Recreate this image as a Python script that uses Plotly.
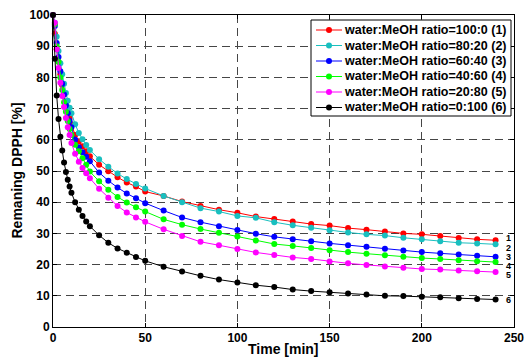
import plotly.graph_objects as go

time_min = [0, 1, 2, 3, 4, 5, 6, 7, 8, 9, 10, 12, 14, 16, 18, 20, 25, 30, 35, 40, 45, 50,
            60, 70, 80, 90, 100, 110, 120, 130, 140, 150, 160, 170, 180, 190, 200, 210, 220, 230, 240]

ratio_100_0 = [100, 94, 89, 85, 81, 77.5, 74.5, 71.5, 69, 67, 65, 61.5, 59.5, 57.9, 56.3, 54.7, 52.0, 49.9, 48.0, 46.3, 45.0, 43.4,
               42.0, 40.2, 38.8, 37.6, 36.6, 35.4, 34.6, 33.8, 33.0, 32.5, 31.7, 31.2, 30.6, 30.0, 29.7, 29.2, 28.5, 28.1, 27.8]
ratio_80_20 = [100, 97.5, 93, 88.5, 84.5, 81, 78, 75, 72.5, 70.3, 68.5, 65, 62.2, 60.2, 58.3, 56.7, 53.8, 51.4, 49.2, 47.4, 45.8, 44.4,
               42.0, 40.0, 38.1, 37.0, 35.6, 35.0, 33.6, 32.6, 31.8, 31.0, 30.3, 29.7, 29.3, 28.6, 28.1, 27.5, 27.0, 26.8, 26.5]
ratio_60_40 = [100, 96.5, 91, 86.5, 82, 78, 74.5, 71, 68.5, 66, 64, 60, 57.6, 56.0, 54.6, 53.1, 49.5, 46.9, 44.7, 42.8, 41.3, 39.7,
               37.3, 35.1, 33.6, 32.3, 31.1, 29.9, 28.9, 28.1, 27.5, 26.8, 26.2, 25.7, 25.1, 24.5, 24.0, 23.6, 23.2, 22.8, 22.5]
ratio_40_60 = [100, 97, 90, 85, 80, 76, 72, 69, 66, 63.5, 61.5, 58.4, 56.3, 54.1, 52.0, 49.8, 46.7, 44.0, 41.7, 39.9, 38.4, 37.0,
               34.5, 32.8, 31.4, 30.2, 29.0, 27.7, 26.6, 26.0, 25.3, 24.6, 24.0, 23.5, 23.0, 22.5, 22.1, 21.8, 21.4, 21.1, 20.8]
ratio_20_80 = [100, 97.5, 89, 83, 78.3, 74, 70.5, 67, 64, 61.5, 59, 55.5, 53, 51, 49.3, 47.7, 44.3, 41.4, 38.8, 36.7, 35.1, 33.7,
               31.3, 29.2, 27.3, 26.2, 25.0, 23.9, 23.1, 22.3, 21.8, 21.0, 20.4, 19.9, 19.4, 19.0, 18.6, 18.4, 18.1, 17.9, 17.6]
ratio_0_100 = [100, 86, 74.2, 66.7, 61, 56.6, 52.7, 49.7, 47.2, 45.0, 43.0, 40.0, 37.6, 35.6, 33.8, 32.3, 29.4, 27.0, 25.2, 23.8, 22.4, 21.2,
               19.3, 17.8, 16.4, 15.2, 14.3, 13.4, 12.8, 12.0, 11.5, 11.1, 10.7, 10.4, 10.0, 9.9, 9.7, 9.5, 9.2, 9.0, 8.8]

series_names = ["water:MeOH ratio=100:0 (1)", "water:MeOH ratio=80:20 (2)", "water:MeOH ratio=60:40 (3)",
                "water:MeOH ratio=40:60 (4)", "water:MeOH ratio=20:80 (5)", "water:MeOH ratio=0:100 (6)"]
series_values = [ratio_100_0, ratio_80_20, ratio_60_40, ratio_40_60, ratio_20_80, ratio_0_100]
series_colors = ["#ff0000", "#19bfbf", "#0000ff", "#00ff00", "#ff00ff", "#000000"]

end_labels = ["1", "2", "3", "4", "5", "6"]
end_label_y = [28.5, 25.3, 22.4, 19.6, 16.8, 8.6]
end_label_x = 245

x_ticks = [0, 50, 100, 150, 200, 250]
y_ticks = [0, 10, 20, 30, 40, 50, 60, 70, 80, 90, 100]

FONT = "Liberation Sans, Arial, sans-serif"
W, H = 525, 362
ML, MR, MT, MB = 53, 11, 15, 35
PW, PH = W - ML - MR, H - MT - MB


def px_x(p):
    return (p - ML) / PW


def px_y(p):
    return (H - MB - p) / PH


fig = go.Figure()
for name, vals, col in zip(series_names, series_values, series_colors):
    fig.add_trace(go.Scatter(
        x=time_min, y=vals, name=name, mode="lines+markers",
        line=dict(color=col, width=1),
        marker=dict(color=col, size=6, symbol="circle"),
        cliponaxis=False, showlegend=False, hoverinfo="skip",
    ))

for lab, ly in zip(end_labels, end_label_y):
    fig.add_annotation(x=end_label_x, y=ly, text="<b>" + lab + "</b>", showarrow=False,
                       xanchor="left", yanchor="middle", borderpad=0,
                       font=dict(size=9, color="black", family=FONT))

axis_common = dict(
    showline=True, linecolor="black", linewidth=1, mirror="ticks",
    ticks="inside", ticklen=4, tickcolor="black",
    showgrid=True, gridcolor="rgb(70,70,70)", gridwidth=1, griddash="8px,5px",
    zeroline=False, tickfont=dict(size=12, color="black", family=FONT),
    automargin=False,
)

fig.update_xaxes(range=[0, 250], tickvals=x_ticks, ticktext=["<b>%d</b>" % v for v in x_ticks], **axis_common)
fig.update_yaxes(range=[0, 100], tickvals=y_ticks, ticktext=["<b>%d</b>" % v for v in y_ticks], **axis_common)

# axis titles
fig.add_annotation(xref="paper", yref="paper", x=px_x(283), y=px_y(349), text="<b>Time [min]</b>",
                   showarrow=False, xanchor="center", yanchor="middle",
                   font=dict(size=14, color="black", family=FONT))
fig.add_annotation(xref="paper", yref="paper", x=px_x(16.5), y=px_y(171), text="<b>Remaning DPPH [%]</b>",
                   showarrow=False, xanchor="center", yanchor="middle", textangle=-90,
                   font=dict(size=14, color="black", family=FONT))

# legend box (drawn manually to match compact row spacing)
LX0, LX1, LY0, LY1 = 311, 511, 20, 116
fig.add_shape(type="rect", xref="paper", yref="paper",
              x0=px_x(LX0), x1=px_x(LX1), y0=px_y(LY1), y1=px_y(LY0),
              line=dict(color="black", width=1), fillcolor="white", layer="above")
for i, (name, col) in enumerate(zip(series_names, series_colors)):
    cy = 30 + 15.5 * i
    fig.add_shape(type="line", xref="paper", yref="paper",
                  x0=px_x(316), x1=px_x(342), y0=px_y(cy), y1=px_y(cy),
                  line=dict(color=col, width=1), layer="above")
    fig.add_shape(type="circle", xref="paper", yref="paper",
                  x0=px_x(329 - 3), x1=px_x(329 + 3), y0=px_y(cy + 3), y1=px_y(cy - 3),
                  line=dict(color=col, width=0), fillcolor=col, layer="above")
    fig.add_annotation(xref="paper", yref="paper", x=px_x(343), y=px_y(cy), text="<b>" + name + "</b>",
                       showarrow=False, xanchor="left", yanchor="middle", borderpad=0,
                       font=dict(size=12.5, color="black", family=FONT))

fig.update_layout(
    width=W, height=H,
    margin=dict(l=ML, r=MR, t=MT, b=MB),
    plot_bgcolor="white", paper_bgcolor="white",
    font=dict(family=FONT, color="black"),
    showlegend=False,
    hovermode=False,
)

fig.write_html("out.html",
               config={"displayModeBar": False, "staticPlot": True},
               post_script="document.body.style.margin='0px';document.body.style.overflow='hidden';")
